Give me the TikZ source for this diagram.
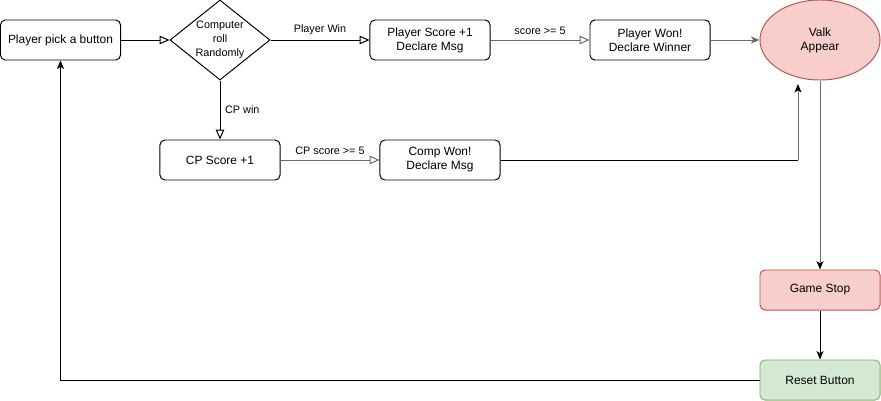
\documentclass[tikz,border=0pt]{standalone}
\usepackage{fontspec}
\setmainfont{Liberation Sans}
\usetikzlibrary{positioning, arrows.meta, shapes.geometric}

\definecolor{valkfill}{HTML}{F8CECC}
\definecolor{valkline}{HTML}{B85450}
\definecolor{resetfill}{HTML}{D5E8D4}
\definecolor{resetline}{HTML}{82B366}
\definecolor{greyline}{HTML}{6B6B6B}

\begin{document}
\begin{tikzpicture}[x=0.025cm, y=-0.025cm, line width=0.7pt,
  box/.style={draw, rounded corners=3.5pt, minimum width=3cm, minimum height=1cm,
    inner sep=0pt, align=center, font=\fontsize{8.5}{10}\selectfont},
  lbl/.style={font=\fontsize{7.7}{9}\selectfont},
  openarr/.style={-{Triangle[open, length=7pt, width=6pt]}},
  fullarr/.style={-{Stealth[length=6pt, width=5pt, inset=1.5pt, black]}}]
\useasboundingbox (0,0) rectangle (881,401);

% top row
\node[box] (pick) at (60.5,40) {Player pick a button};
\node[draw, diamond, aspect=1.25, inner sep=0pt, minimum width=2.5cm, minimum height=2cm,
  align=center, font=\fontsize{7.7}{10}\selectfont] (roll) at (220,40) {Computer\\roll\\Randomly};
\node[box] (pscore) at (430,40) {Player Score +1\\Declare Msg};
\node[box] (pwon) at (650,40) {Player Won!\\Declare Winner};
\node[draw=valkline, fill=valkfill, ellipse, minimum width=3cm, minimum height=2cm, inner sep=0pt,
  align=center, font=\fontsize{8.5}{10}\selectfont] (valk) at (820,40) {Valk\\Appear};

% computer row
\node[box] (cpscore) at (220,160) {CP Score +1};
\node[box] (cpwon) at (440,160) {Comp Won!\\Declare Msg};

% end of game
\node[box, draw=valkline, fill=valkfill] (stop) at (820,290) {Game Stop};
\node[box, draw=resetline, fill=resetfill] (reset) at (820,380) {Reset Button};
\coordinate (valkturn) at (798,160);
\coordinate (valkin) at (798,84);

% connectors
\draw[openarr] (pick) -- (roll);
\draw[openarr] (roll) -- node[above, lbl] {Player Win} (pscore);
\draw[openarr] (roll) -- node[right, lbl] {CP win} (cpscore);
\draw[openarr, greyline] (pscore) -- node[above, lbl, black] {score >= 5} (pwon);
\draw[openarr, greyline] (cpscore) -- node[above, lbl, black] {CP score >= 5} (cpwon);
\draw[-{Stealth[length=6pt, width=5pt, inset=1.5pt]}, greyline] (pwon) -- (valk);
\draw (cpwon) -- (valkturn);
\draw[fullarr, greyline] (valkturn) -- (valkin);
\draw[fullarr, greyline] (valk) -- (stop);
\draw[fullarr] (stop) -- (reset);
\draw[fullarr] (reset) -| (pick);
\end{tikzpicture}
\end{document}
